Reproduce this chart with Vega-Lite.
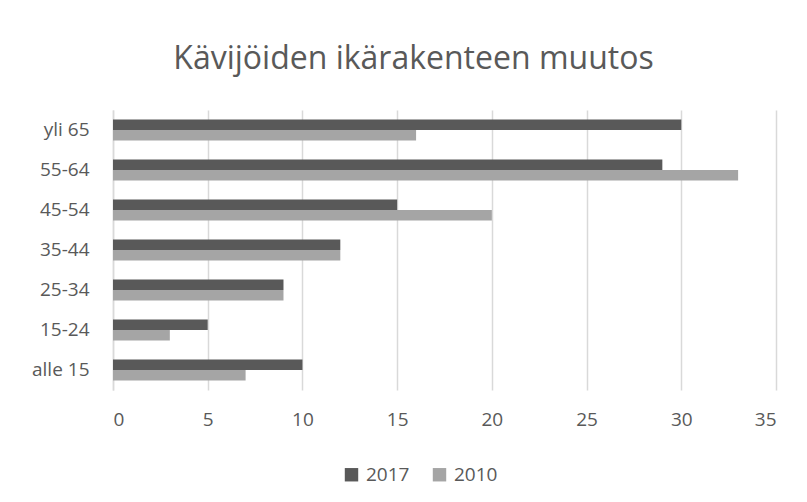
{
  "$schema": "https://vega.github.io/schema/vega-lite/v6.json",
  "width": 663,
  "height": 280,
  "autosize": {"type": "none"},
  "padding": {"left": 113, "top": 110, "right": 31, "bottom": 112},
  "background": "white",
  "title": {
    "text": "Kävijöiden ikärakenteen muutos",
    "font": "Open Sans",
    "fontSize": 32,
    "fontWeight": "normal",
    "color": "#595959",
    "anchor": "middle",
    "dx": -31,
    "offset": 34
  },
  "data": {
    "values": [
      {"age": "yli 65", "year": "2017", "value": 30},
      {"age": "yli 65", "year": "2010", "value": 16},
      {"age": "55-64", "year": "2017", "value": 29},
      {"age": "55-64", "year": "2010", "value": 33},
      {"age": "45-54", "year": "2017", "value": 15},
      {"age": "45-54", "year": "2010", "value": 20},
      {"age": "35-44", "year": "2017", "value": 12},
      {"age": "35-44", "year": "2010", "value": 12},
      {"age": "25-34", "year": "2017", "value": 9},
      {"age": "25-34", "year": "2010", "value": 9},
      {"age": "15-24", "year": "2017", "value": 5},
      {"age": "15-24", "year": "2010", "value": 3},
      {"age": "alle 15", "year": "2017", "value": 10},
      {"age": "alle 15", "year": "2010", "value": 7}
    ]
  },
  "mark": {"type": "bar"},
  "encoding": {
    "y": {
      "field": "age",
      "type": "nominal",
      "sort": ["yli 65", "55-64", "45-54", "35-44", "25-34", "15-24", "alle 15"],
      "scale": {"paddingInner": 0.475, "paddingOuter": 0.2375},
      "axis": {
        "title": null,
        "ticks": false,
        "domain": true,
        "domainColor": "#d9d9d9",
        "domainWidth": 1.5,
        "labelFont": "Open Sans",
        "labelFontSize": 19,
        "labelColor": "#595959",
        "labelPadding": 24
      }
    },
    "yOffset": {
      "field": "year",
      "type": "nominal",
      "sort": ["2017", "2010"]
    },
    "x": {
      "field": "value",
      "type": "quantitative",
      "scale": {"domain": [0, 35], "nice": false},
      "axis": {
        "title": null,
        "values": [0, 5, 10, 15, 20, 25, 30, 35],
        "ticks": false,
        "domain": false,
        "grid": true,
        "gridColor": "#d9d9d9",
        "gridWidth": 1.5,
        "labelFont": "Open Sans",
        "labelFontSize": 19,
        "labelColor": "#595959",
        "labelPadding": 20
      }
    },
    "color": {
      "field": "year",
      "type": "nominal",
      "sort": ["2017", "2010"],
      "scale": {"domain": ["2017", "2010"], "range": ["#595959", "#a5a5a5"]},
      "legend": {
        "title": null,
        "orient": "none",
        "direction": "horizontal",
        "legendX": 229,
        "legendY": 355,
        "symbolType": "square",
        "symbolSize": 180,
        "symbolStrokeWidth": 0,
        "labelFont": "Open Sans",
        "labelFontSize": 19,
        "labelColor": "#595959",
        "labelOffset": 5,
        "columnPadding": 20
      }
    }
  },
  "config": {"view": {"stroke": null}}
}
